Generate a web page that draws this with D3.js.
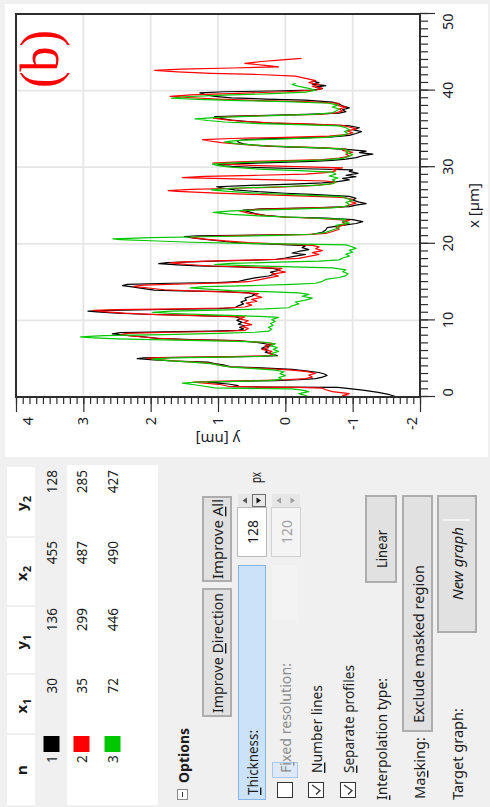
<!DOCTYPE html>
<html>
<head>
<meta charset="utf-8">
<script src="https://cdn.jsdelivr.net/npm/d3@7"></script>
<style>
  html, body { margin: 0; padding: 0; background: #f0f0f0; }
  svg { display: block; font-family: "Noto Sans", "DejaVu Sans", sans-serif; }
</style>
</head>
<body>
<svg id="c" width="490" height="807"></svg>
<script>
// ---- profile data: [x (µm), y (nm)] ----
const profile1 = [
  [0.00,-1.66],[0.30,-1.55],[0.60,-1.38],[0.90,-1.15],[1.10,-0.95],[1.25,-0.78],[1.30,0.15],[1.34,0.80],[1.50,0.70],[1.70,0.85],[1.85,1.05],[1.92,1.15],[2.00,0.95],[2.08,0.55],[2.15,0.15],[2.25,-0.20],[2.40,-0.45],[2.60,-0.55],[2.80,-0.62],[3.00,-0.58],
  [3.20,-0.50],[3.40,-0.30],[3.60,-0.10],[3.80,0.35],[3.95,0.80],[4.15,0.90],[4.35,1.05],[4.55,1.15],[4.70,1.65],[4.85,1.95],[5.00,2.20],[5.10,2.10],[5.20,1.20],[5.30,0.40],[5.40,0.12],
  [5.60,0.20],[5.85,0.30],[6.10,0.25],[6.35,0.35],[6.55,0.30],[6.75,0.20],[6.95,0.30],[7.15,0.45],
  [7.35,0.70],[7.50,1.40],[7.65,1.90],[7.85,2.10],[8.05,2.35],[8.25,2.57],[8.40,2.45],[8.50,1.80],[8.60,1.10],[8.70,0.70],
  [8.90,0.62],[9.10,0.68],[9.30,0.60],[9.50,0.70],[9.75,0.64],[10.00,0.72],[10.25,0.66],[10.50,0.75],
  [10.65,1.40],[10.80,2.10],[10.95,2.50],[11.10,2.80],[11.20,2.93],[11.30,2.60],[11.42,1.80],[11.55,1.00],[11.65,0.75],
  [11.90,0.70],[12.15,0.62],[12.40,0.66],[12.65,0.58],[12.90,0.60],[13.15,0.50],[13.40,0.45],[13.60,0.55],
  [13.75,0.90],[13.85,1.55],[13.95,1.95],[14.15,2.10],[14.40,2.30],[14.55,2.42],[14.70,2.35],[14.85,1.70],[14.95,1.00],[15.05,0.72],
  [15.30,0.60],[15.55,0.45],[15.80,0.25],[16.05,0.15],[16.30,0.22],[16.55,0.08],[16.80,0.18],
  [17.00,0.70],[17.12,1.30],[17.25,1.60],[17.40,1.88],[17.55,1.75],[17.70,1.20],[17.85,0.50],[17.95,0.15],
  [18.15,0.00],[18.40,-0.15],[18.60,-0.30],[18.80,-0.10],[19.00,-0.20],[19.25,-0.35],[19.50,-0.25],[19.75,-0.30],
  [19.95,0.20],[20.10,0.65],[20.30,0.90],[20.55,1.15],[20.75,1.35],[20.95,1.50],[21.05,1.30],[21.15,0.40],[21.25,-0.40],
  [21.50,-0.55],[21.80,-0.60],[22.10,-0.62],[22.40,-0.85],[22.65,-1.05],[22.90,-1.15],[23.15,-1.00],
  [23.35,-0.60],[23.50,0.00],[23.70,0.30],[23.95,0.45],[24.20,0.55],[24.40,0.63],[24.55,0.35],[24.70,-0.40],[24.85,-0.95],
  [25.05,-1.05],[25.25,-1.20],[25.45,-1.10],[25.70,-1.00],[25.95,-1.05],[26.20,-0.95],
  [26.45,-0.40],[26.60,0.00],[26.80,0.40],[27.05,0.75],[27.30,0.95],[27.45,1.02],[27.60,0.60],[27.80,-0.10],[27.95,-0.55],
  [28.15,-0.80],[28.35,-0.95],[28.55,-0.85],[28.75,-1.05],[28.95,-0.90],[29.20,-1.08],[29.45,-0.95],[29.65,-1.00],
  [29.80,-0.30],[29.95,0.40],[30.10,0.80],[30.30,1.00],[30.45,0.70],[30.60,0.20],[30.75,-0.40],[30.90,-0.70],
  [31.05,-0.90],[31.25,-1.05],[31.50,-1.15],[31.70,-1.30],[31.90,-1.10],[32.10,-1.20],[32.30,-0.95],
  [32.50,-0.60],[32.65,0.00],[32.80,0.40],[33.00,0.60],[33.20,0.68],[33.45,0.72],[33.65,0.55],[33.80,-0.10],[33.95,-0.70],
  [34.15,-0.95],[34.40,-1.05],[34.65,-1.13],[34.90,-1.00],[35.15,-1.10],[35.40,-0.95],
  [35.60,-0.40],[35.75,0.20],[35.95,0.55],[36.15,0.80],[36.40,1.00],[36.60,1.05],[36.75,0.40],[36.90,-0.30],[37.05,-0.80],
  [37.25,-0.90],[37.50,-0.85],[37.75,-0.95],[38.00,-0.85],[38.25,-0.80],[38.50,-0.70],
  [38.75,-0.30],[38.90,0.30],[39.05,0.80],[39.25,1.05],[39.50,1.20],[39.70,1.27],[39.85,0.90],[39.95,0.20],[40.05,-0.40],
  [40.25,-0.55],[40.45,-0.45],[40.65,-0.60],[40.85,-0.40],[41.05,-0.50],[41.25,-0.40]
];
const profile2 = [
  [0.00,-1.00],[0.20,-0.85],[0.45,-0.95],[0.70,-0.70],[0.95,-0.60],[1.15,-0.55],[1.25,-0.20],[1.30,0.40],[1.40,0.85],[1.60,0.95],[1.80,1.20],[1.95,1.37],[2.05,1.10],[2.15,0.50],[2.25,0.00],[2.40,-0.30],[2.60,-0.40],[2.85,-0.35],[3.10,-0.45],[3.35,-0.30],
  [3.55,-0.05],[3.75,0.40],[3.95,0.85],[4.20,1.00],[4.45,1.15],[4.65,1.55],[4.85,1.85],[5.05,2.05],[5.15,1.90],[5.25,1.00],[5.35,0.35],[5.45,0.15],
  [5.70,0.25],[5.95,0.20],[6.20,0.35],[6.45,0.25],[6.70,0.30],[6.95,0.15],[7.15,0.35],
  [7.35,0.80],[7.50,1.50],[7.70,1.95],[7.90,2.20],[8.10,2.45],[8.30,2.35],[8.45,1.70],[8.55,1.00],[8.70,0.60],
  [8.95,0.55],[9.20,0.65],[9.45,0.50],[9.70,0.62],[9.95,0.55],[10.20,0.68],[10.45,0.60],
  [10.60,1.20],[10.75,1.90],[10.95,2.40],[11.15,2.70],[11.30,2.85],[11.40,2.50],[11.50,1.60],[11.62,0.90],[11.75,0.60],
  [12.00,0.50],[12.25,0.58],[12.50,0.42],[12.75,0.50],[13.00,0.35],[13.25,0.45],[13.50,0.40],
  [13.70,0.80],[13.85,1.40],[14.00,1.80],[14.20,2.00],[14.45,2.25],[14.60,2.10],[14.75,1.50],[14.90,0.90],[15.05,0.55],
  [15.30,0.40],[15.55,0.25],[15.80,0.10],[16.05,0.20],[16.30,0.00],[16.55,0.12],[16.80,0.05],
  [16.95,0.50],[17.10,1.10],[17.30,1.45],[17.50,1.71],[17.65,1.50],[17.80,0.90],[17.95,0.20],[18.10,-0.20],
  [18.35,-0.35],[18.60,-0.50],[18.85,-0.40],[19.10,-0.55],[19.35,-0.45],[19.60,-0.50],[19.80,-0.40],
  [19.95,0.00],[20.15,0.55],[20.35,0.85],[20.60,1.20],[20.80,1.40],[20.95,1.25],[21.10,0.50],[21.20,-0.30],[21.35,-0.60],
  [21.60,-0.70],[21.90,-0.80],[22.20,-0.75],[22.50,-0.90],[22.80,-0.85],[23.05,-0.95],
  [23.30,-0.50],[23.50,0.05],[23.75,0.35],[24.00,0.55],[24.30,0.68],[24.50,0.40],[24.65,-0.30],[24.80,-0.85],
  [25.05,-0.95],[25.30,-1.05],[25.55,-0.95],[25.80,-1.00],[26.05,-0.85],
  [26.25,-0.20],[26.45,0.50],[26.65,1.10],[26.85,1.60],[26.95,1.74],[27.10,1.40],[27.25,0.70],[27.40,0.10],[27.60,-0.40],
  [27.80,-0.65],[28.00,-0.75],[28.20,-0.60],
  [28.35,0.10],[28.50,0.90],[28.65,1.53],[28.80,1.20],[28.95,0.40],[29.10,-0.30],[29.30,-0.60],
  [29.50,-0.75],[29.70,-0.70],[29.90,-0.85],
  [30.05,-0.30],[30.20,0.40],[30.40,0.90],[30.55,1.08],[30.70,0.70],[30.85,0.00],[31.00,-0.55],
  [31.20,-0.80],[31.45,-0.95],[31.70,-0.90],[31.95,-1.00],[32.20,-0.85],[32.40,-0.90],
  [32.60,-0.40],[32.75,0.20],[32.95,0.60],[33.20,0.95],[33.45,1.15],[33.60,1.23],[33.75,0.80],[33.90,0.00],[34.05,-0.65],
  [34.25,-0.90],[34.50,-1.00],[34.75,-0.92],[35.00,-1.05],[35.25,-0.95],[35.45,-0.85],
  [35.65,-0.30],[35.80,0.25],[36.00,0.65],[36.20,0.90],[36.40,1.07],[36.60,0.85],[36.75,0.20],[36.90,-0.50],
  [37.10,-0.75],[37.35,-0.85],[37.60,-0.80],[37.85,-0.90],[38.10,-0.75],[38.35,-0.80],
  [38.55,-0.30],[38.70,0.40],[38.90,1.00],[39.10,1.45],[39.25,1.71],[39.45,1.40],[39.65,0.70],[39.85,0.00],[40.05,-0.45],
  [40.30,-0.55],[40.55,-0.40],[40.80,-0.50],[41.05,-0.35],[41.30,-0.45],[41.60,-0.30],[41.90,-0.15],
  [42.10,0.40],[42.25,1.10],[42.45,1.60],[42.65,1.94],[42.80,1.55],[42.95,0.80],[43.10,0.10],[43.30,0.30],[43.55,0.60],[43.80,0.35],[44.00,0.05],[44.20,-0.24]
];
const profile3 = [
  [0.00,-0.35],[0.20,-0.30],[0.45,-0.20],[0.70,-0.35],[0.90,-0.25],[1.05,-0.10],[1.12,0.60],[1.20,1.05],[1.40,1.20],[1.60,1.35],[1.80,1.53],[1.95,1.30],[2.05,0.70],[2.15,0.25],[2.30,0.05],[2.55,0.10],[2.80,0.00],[3.05,0.08],[3.30,0.02],[3.50,0.15],
  [3.70,0.45],[3.90,0.80],[4.10,0.95],[4.35,1.10],[4.55,1.40],[4.75,1.75],[4.95,1.98],[5.10,1.70],[5.20,0.90],[5.30,0.35],[5.45,0.15],
  [5.70,0.20],[5.95,0.10],[6.20,0.18],[6.45,0.12],[6.70,0.22],[6.95,0.15],[7.15,0.30],
  [7.30,0.90],[7.45,1.80],[7.60,2.50],[7.75,2.90],[7.85,3.04],[8.00,2.70],[8.15,1.80],[8.30,1.00],[8.45,0.45],[8.60,0.25],
  [8.85,0.20],[9.10,0.25],[9.35,0.18],[9.60,0.22],[9.85,0.15],[10.10,0.20],[10.40,0.10],
  [10.60,0.60],[10.75,1.20],[10.90,1.65],[11.05,1.97],[11.20,1.70],[11.35,1.00],[11.50,0.30],[11.65,-0.05],
  [11.90,-0.10],[12.15,-0.20],[12.40,-0.15],[12.65,-0.30],[12.90,-0.40],[13.15,-0.25],[13.40,-0.35],[13.60,-0.20],
  [13.75,0.30],[13.90,0.80],[14.05,1.10],[14.25,1.41],[14.40,1.20],[14.55,0.50],[14.70,-0.10],[14.85,-0.45],
  [15.10,-0.55],[15.35,-0.60],[15.60,-0.80],[15.85,-0.90],[16.10,-0.93],[16.35,-0.85],[16.60,-0.90],[16.85,-0.70],
  [17.00,-0.10],[17.15,0.60],[17.30,1.05],[17.45,0.80],[17.60,0.10],[17.75,-0.50],[17.90,-0.80],
  [18.15,-0.85],[18.40,-0.95],[18.65,-0.90],[18.90,-1.00],[19.15,-0.95],[19.40,-1.05],[19.65,-0.98],[19.85,-0.90],
  [19.95,-0.20],[20.05,0.60],[20.20,1.40],[20.40,2.00],[20.55,2.45],[20.65,2.56],[20.80,2.00],[20.95,1.00],[21.10,0.10],[21.25,-0.40],
  [21.50,-0.60],[21.80,-0.70],[22.10,-0.80],[22.40,-0.75],[22.70,-0.95],[22.95,-0.85],[23.20,-0.90],
  [23.40,-0.30],[23.60,0.30],[23.85,0.80],[24.10,1.07],[24.30,0.80],[24.50,0.00],[24.70,-0.70],[24.90,-0.90],
  [25.15,-0.95],[25.40,-0.90],[25.65,-1.00],[25.90,-0.92],[26.15,-0.85],
  [26.40,-0.20],[26.60,0.40],[26.85,0.85],[27.05,1.10],[27.25,0.80],[27.45,0.10],[27.65,-0.50],[27.85,-0.70],
  [28.10,-0.75],[28.35,-0.70],[28.60,-0.78],[28.85,-0.65],[29.10,-0.75],[29.35,-0.70],
  [29.55,-0.20],[29.75,0.40],[30.00,0.80],[30.20,1.00],[30.40,1.08],[30.60,0.70],[30.80,-0.10],[30.95,-0.60],
  [31.15,-0.85],[31.40,-0.95],[31.65,-1.00],[31.90,-0.90],[32.15,-0.95],[32.40,-0.85],
  [32.60,-0.30],[32.80,0.30],[33.05,0.70],[33.30,0.90],[33.50,0.70],[33.70,0.00],[33.90,-0.60],
  [34.15,-0.85],[34.40,-0.93],[34.65,-0.88],[34.90,-0.95],[35.15,-0.90],[35.40,-0.80],
  [35.55,-0.20],[35.70,0.40],[35.90,0.90],[36.10,1.15],[36.30,1.34],[36.50,1.00],[36.70,0.30],[36.90,-0.40],[37.10,-0.70],
  [37.35,-0.75],[37.60,-0.80],[37.85,-0.70],[38.10,-0.78],[38.35,-0.65],
  [38.55,0.00],[38.70,0.70],[38.85,1.30],[39.00,1.69],[39.20,1.50],[39.40,0.90],[39.60,0.20],[39.80,-0.30],
  [40.05,-0.45],[40.30,-0.35],[40.55,-0.20],[40.80,-0.10],[40.95,-0.15]
];

const profiles = [profile1, profile2, profile3];
const lineIds = [1, 2, 3];
const lineColors = ["#000000", "#ff0000", "#00c800"];

// endpoint table (pixel coordinates of each line)
const endpointHeaders = ["x", "y", "x", "y"];
const endpointSubs = ["1", "1", "2", "2"];
const endpointValues = [
  [30, 136, 455, 128],
  [35, 299, 487, 285],
  [72, 446, 490, 427]
];

// axis ticks
const xMajorTicks = [0, 10, 20, 30, 40, 50];
const yMajorTicks = [-2, -1, 0, 1, 2, 3, 4];
const xMinorTicks = d3.range(0, 51, 1);
const yMinorTicks = d3.range(-20, 41, 1).map(d => d / 10);

// ---- layout: the dialog is 807 x 490, drawn a quarter turn counter-clockwise ----
const DW = 807, DH = 490;
const svg = d3.select("#c");
const root = svg.append("g").attr("transform", `translate(0,${DW}) rotate(-90)`);

root.append("rect").attr("width", DW).attr("height", DH).attr("fill", "#f0f0f0");

function label(g, str, u, v, o = {}) {
  const t = g.append("text")
    .attr("x", u).attr("y", v)
    .attr("dominant-baseline", "central")
    .attr("font-size", o.size || 14)
    .attr("fill", o.color || "#1b1b1b")
    .attr("text-anchor", o.anchor || "start");
  if (o.weight) t.attr("font-weight", o.weight);
  if (o.italic) t.attr("font-style", "italic");
  if (o.len) t.attr("textLength", o.len).attr("lengthAdjust", "spacingAndGlyphs");
  if (o.ul != null) {
    const i = o.ul;
    if (i > 0) t.append("tspan").text(str.slice(0, i));
    t.append("tspan").attr("text-decoration", "underline").text(str[i]);
    t.append("tspan").text(str.slice(i + 1));
  } else {
    t.text(str);
  }
  return t;
}

function button(g, u0, v0, w, h) {
  g.append("rect").attr("x", u0 + 1).attr("y", v0 + 1).attr("width", w - 2).attr("height", h - 2)
    .attr("fill", "#e1e1e1").attr("stroke", "#adadad").attr("stroke-width", 2);
}

// ---- graph panel ----
root.append("rect").attr("x", 350).attr("y", 5).attr("width", 453).attr("height", 483).attr("fill", "#ffffff");

const P = { l: 410, r: 793, t: 16, b: 420 };
const xs = d3.scaleLinear().domain([0, 50]).range([P.l, P.r]);
const ys = d3.scaleLinear().domain([-2, 4]).range([P.b, P.t]);

const grid = root.append("g");
grid.selectAll("line.gx").data(xMajorTicks.filter(d => d > 0 && d < 50)).join("line")
  .attr("x1", d => xs(d)).attr("x2", d => xs(d)).attr("y1", P.t).attr("y2", P.b)
  .attr("stroke", "#e6e6e6").attr("stroke-width", 1.8);
grid.selectAll("line.gy").data(yMajorTicks.filter(d => d > -2 && d < 4)).join("line")
  .attr("y1", d => ys(d)).attr("y2", d => ys(d)).attr("x1", P.l).attr("x2", P.r)
  .attr("stroke", "#e6e6e6").attr("stroke-width", 1.8);

// profile curves
const line = d3.line().x(d => xs(d[0])).y(d => ys(d[1]));
const curves = root.append("g");
profiles.forEach((p, i) => {
  curves.append("path").datum(p).attr("d", line)
    .attr("fill", "none").attr("stroke", lineColors[i])
    .attr("stroke-width", 1.2).attr("stroke-linejoin", "round");
});

// frame
root.append("rect").attr("x", P.l).attr("y", P.t).attr("width", P.r - P.l).attr("height", P.b - P.t)
  .attr("fill", "none").attr("stroke", "#2e2e2e").attr("stroke-width", 2);

function styleAxis(g) {
  g.select(".domain").remove();
  g.selectAll(".tick line").attr("stroke", "#2e2e2e").attr("stroke-width", 1.2);
  g.attr("font-family", null).attr("font-size", null);
  g.selectAll(".tick text").attr("fill", "#1a1a2a").attr("font-size", 14.5);
}

// x axis along the bottom of the frame
const xMinorG = root.append("g").attr("transform", `translate(0,${P.b})`)
  .call(d3.axisBottom(xs).tickValues(xMinorTicks).tickSize(8).tickFormat(""));
styleAxis(xMinorG);
const xMajorG = root.append("g").attr("transform", `translate(0,${P.b})`)
  .call(d3.axisBottom(xs).tickValues(xMajorTicks).tickSize(15).tickPadding(8).tickFormat(d => String(d)));
styleAxis(xMajorG);

// y axis along the left of the frame
const yMinorG = root.append("g").attr("transform", `translate(${P.l},0)`)
  .call(d3.axisLeft(ys).tickValues(yMinorTicks).tickSize(7).tickFormat(""));
styleAxis(yMinorG);
const yMajorG = root.append("g").attr("transform", `translate(${P.l},0)`)
  .call(d3.axisLeft(ys).tickValues(yMajorTicks).tickSize(15).tickPadding(5).tickFormat(d => String(d)));
styleAxis(yMajorG);

// keep the end labels inside the frame extent
xMajorG.selectAll(".tick").each(function (d) {
  const t = d3.select(this).select("text").node();
  const b = t.getBBox(), u = xs(d);
  let s = 0;
  if (u + b.x < P.l) s = P.l - (u + b.x);
  if (u + b.x + b.width > P.r) s = P.r - (u + b.x + b.width);
  d3.select(t).attr("x", s);
});
yMajorG.selectAll(".tick").each(function (d) {
  const t = d3.select(this).select("text");
  const b = t.node().getBBox(), v = ys(d);
  let s = 0;
  if (v + b.y < P.t) s = P.t - (v + b.y);
  if (v + b.y + b.height > P.b) s = P.b - (v + b.y + b.height);
  t.attr("y", s);
});

// axis titles
label(root, "x [µm]", (P.l + P.r) / 2, 473, { size: 15, anchor: "middle", color: "#1a1a2a" });
root.append("text").attr("transform", `translate(367,${(P.t + P.b) / 2}) rotate(-90)`)
  .attr("text-anchor", "middle").attr("dominant-baseline", "central")
  .attr("font-size", 15).attr("fill", "#1a1a2a").text("y [nm]");

// panel tag
root.append("text").attr("x", 719).attr("y", 58)
  .style("font-family", "\"Liberation Serif\", \"DejaVu Serif\", serif")
  .attr("font-size", 54).attr("fill", "#ff0000")
  .attr("textLength", 58).attr("lengthAdjust", "spacingAndGlyphs")
  .text("(b)");

// ---- endpoint table ----
const tbl = root.append("g");
const colEdges = [[2, 72], [74, 132], [134, 200], [202, 269], [271, 340]];
tbl.append("rect").attr("x", 2).attr("y", 67).attr("width", 340).attr("height", 91).attr("fill", "#ffffff");
colEdges.forEach(([a, b]) => {
  tbl.append("rect").attr("x", a).attr("y", 7).attr("width", b - a).attr("height", 28).attr("fill", "#ffffff");
});
label(tbl, "n", 37, 21, { size: 15, weight: "bold", anchor: "middle" });
endpointHeaders.forEach((h, i) => {
  const [a, b] = colEdges[i + 1];
  const t = tbl.append("text").attr("x", (a + b) / 2 - 2).attr("y", 21)
    .attr("dominant-baseline", "central").attr("text-anchor", "middle")
    .attr("font-size", 15).attr("font-weight", "bold").attr("fill", "#1b1b1b");
  t.append("tspan").text(h);
  t.append("tspan").attr("font-size", 11).attr("dy", 5).text(endpointSubs[i]);
});
const rowV = [52, 82, 113];
const colRight = [129, 199, 266, 337];
lineIds.forEach((id, r) => {
  label(tbl, String(id), 48, rowV[r], { size: 13.5, anchor: "middle" });
  tbl.append("rect").attr("x", 55).attr("y", rowV[r] - 8.5).attr("width", 16).attr("height", 16)
    .attr("fill", lineColors[r]);
  endpointValues[r].forEach((val, c) => {
    label(tbl, String(val), colRight[c], rowV[r], { size: 13.5, anchor: "end" });
  });
});

// ---- options ----
const opt = root.append("g");
opt.append("rect").attr("x", 7.5).attr("y", 177.5).attr("width", 10).attr("height", 10)
  .attr("fill", "#ffffff").attr("stroke", "#8a8a8a");
opt.append("line").attr("x1", 10).attr("x2", 15).attr("y1", 182.5).attr("y2", 182.5).attr("stroke", "#333");
label(opt, "Options", 24, 183, { size: 15, weight: "bold", len: 55 });

button(opt, 90, 202, 129, 30);
label(opt, "Improve Direction", 94, 217, { len: 120, ul: 8 });
button(opt, 225, 202, 86, 30);
label(opt, "Improve All", 228, 217, { len: 80, ul: 8 });

// thickness row
opt.append("rect").attr("x", 7.5).attr("y", 238.5).attr("width", 234).attr("height", 27)
  .attr("fill", "#cce2f8").attr("stroke", "#84b6ea");
label(opt, "Thickness:", 12, 252, { len: 65, ul: 0 });

function spin(u0, v0, text, enabled) {
  opt.append("rect").attr("x", u0 + 0.5).attr("y", v0 + 0.5).attr("width", 49).attr("height", 29)
    .attr("fill", enabled ? "#ffffff" : "#f4f4f4").attr("stroke", enabled ? "#b9b9b9" : "#d0d0d0");
  label(opt, text, u0 + 25, v0 + 15, { size: 14, anchor: "middle", color: enabled ? "#1b1b1b" : "#a0a0a0" });
  const au = u0 + 50;
  opt.append("rect").attr("x", au).attr("y", v0 + 1).attr("width", 13).attr("height", 28).attr("fill", "#e6e6e6");
  if (enabled) {
    opt.append("rect").attr("x", au + 0.5).attr("y", v0 + 15.5).attr("width", 12).attr("height", 13)
      .attr("fill", "#e8e8e8").attr("stroke", "#6d6d6d");
  }
  const col = enabled ? "#555" : "#9e9e9e";
  opt.append("path").attr("d", `M${au + 3.5},${v0 + 10} L${au + 9.5},${v0 + 10} L${au + 6.5},${v0 + 5.5} Z`).attr("fill", col);
  opt.append("path").attr("d", `M${au + 3.5},${v0 + 19.5} L${au + 9.5},${v0 + 19.5} L${au + 6.5},${v0 + 24} Z`)
    .attr("fill", enabled ? "#111" : col);
}
spin(250, 237, "128", true);
label(opt, "px", 324, 255, { len: 11 });
opt.append("rect").attr("x", 187).attr("y", 272).attr("width", 55).attr("height", 25).attr("fill", "#f3f3f3");
spin(250, 271, "120", false);

// check boxes
function checkbox(v0, text, checked, color, ul) {
  opt.append("rect").attr("x", 9.5).attr("y", v0 + 0.5).attr("width", 15).attr("height", 15)
    .attr("fill", "#ffffff").attr("stroke", "#333333");
  if (checked) {
    opt.append("path").attr("d", `M12.5,${v0 + 8} L16.5,${v0 + 12} L22,${v0 + 4}`)
      .attr("fill", "none").attr("stroke", "#333").attr("stroke-width", 1.3);
  }
  return label(opt, text.str, 34, v0 + 8, { len: text.len, color, ul });
}
opt.append("rect").attr("x", 29.5).attr("y", 272.5).attr("width", 15).attr("height", 25)
  .attr("fill", "#dde9f7").attr("stroke", "#a9c8ee");
checkbox(277, { str: "Fixed resolution:", len: 110 }, false, "#8c8c8c", 1);
checkbox(308, { str: "Number lines", len: 88 }, true, "#1b1b1b", 0);
checkbox(340, { str: "Separate profiles", len: 108 }, true, "#1b1b1b", 0);

label(opt, "Interpolation type:", 7, 381, { len: 122, ul: 0 });
button(opt, 224, 365, 88, 32);
label(opt, "Linear", 239, 381, { len: 38 });

label(opt, "Masking:", 8, 419, { len: 62, ul: 2 });
button(opt, 75, 402, 237, 31);
label(opt, "Exclude masked region", 84, 418, { len: 158 });

label(opt, "Target graph:", 7, 457, { len: 92, ul: 7 });
button(opt, 174, 437, 138, 40);
opt.append("line").attr("x1", 287).attr("x2", 287).attr("y1", 443).attr("y2", 470)
  .attr("stroke", "#ffffff").attr("stroke-width", 1.2);
label(opt, "New graph", 207, 457, { len: 73, italic: true });
</script>
</body>
</html>
